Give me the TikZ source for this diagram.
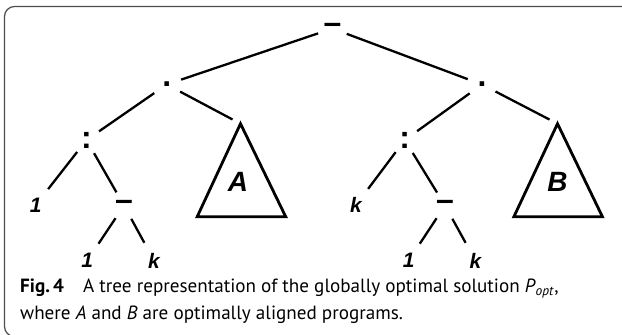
\documentclass[tikz,border=0pt]{standalone}
\usepackage{fontspec}
\setmainfont{PT Sans}
\newfontfamily\treefont{Liberation Sans}

\begin{document}
\begin{tikzpicture}[x=1bp, y=-1bp,
  op/.style={circle, inner sep=0pt, minimum size=30bp,
    font=\treefont\fontsize{32}{32}\selectfont\bfseries},
  leaf/.style={circle, inner sep=0pt, minimum size=40bp,
    font=\treefont\fontsize{21}{21}\selectfont\bfseries\itshape},
  subtree/.style={font=\treefont\fontsize{28}{28}\selectfont\bfseries\itshape},
  branch/.style={line width=2.3bp},
  tri/.style={line width=2.8bp, line join=miter}
]
\useasboundingbox (0,0) rectangle (622,334);
\clip (0,0) rectangle (622,334);
\draw[gray!60!black, line width=1.2bp, rounded corners=10bp]
  (4.5,6.5) rectangle (660,336.5);

% operators
\node[op] (root) at (332.5,28.5) {–};
\node[op] (ldot) at (166.7,84.5) {.};
\node[op] (rdot) at (482,84.5) {.};
\node[op] (lcol) at (86.5,140) {:};
\node[op] (rcol) at (404.8,140) {:};
\node[op] (ldash) at (124,205.5) {–};
\node[op] (rdash) at (445,205.5) {–};

% leaves
\node[leaf] (lone) at (35.7,205) {1};
\node[leaf] (rk) at (356,205) {k};
\node[leaf] (llone) at (87.3,260.5) {1};
\node[leaf] (lk) at (154,260.5) {k};
\node[leaf] (rlone) at (408.7,260.5) {1};
\node[leaf] (rrk) at (475.4,260.5) {k};

% subtrees
\coordinate (Atop) at (240.5,123.7);
\coordinate (Btop) at (557.5,123.7);
\draw[tri] (Atop) -- (197.2,216.7) -- (285.7,216.7) -- cycle;
\draw[tri] (Btop) -- (513.9,216.7) -- (602.4,216.7) -- cycle;
\node[subtree] (A) at (238,182) {A};
\node[subtree] (B) at (557.5,182) {B};

\draw[branch] (root) -- (ldot);
\draw[branch] (root) -- (rdot);
\draw[branch] (ldot) -- (lcol);
\draw[branch, shorten >=9bp] (ldot) -- (Atop);
\draw[branch] (rdot) -- (rcol);
\draw[branch, shorten >=9bp] (rdot) -- (Btop);
\draw[branch] (lcol) -- (lone);
\draw[branch] (lcol) -- (ldash);
\draw[branch] (rcol) -- (rk);
\draw[branch] (rcol) -- (rdash);
\draw[branch] (ldash) -- (llone);
\draw[branch] (ldash) -- (lk);
\draw[branch] (rdash) -- (rlone);
\draw[branch] (rdash) -- (rrk);

% caption
\node[anchor=base west, align=left, inner sep=0pt,
  font=\fontsize{19.2}{27}\selectfont] (caption) at (20,319)
  {\textbf{Fig.\,4}\quad A tree representation of the globally optimal solution
   \textit{P}\textsubscript{\textit{opt}},\\
   where \textit{A} and \textit{B} are optimally aligned programs.};
\end{tikzpicture}
\end{document}
